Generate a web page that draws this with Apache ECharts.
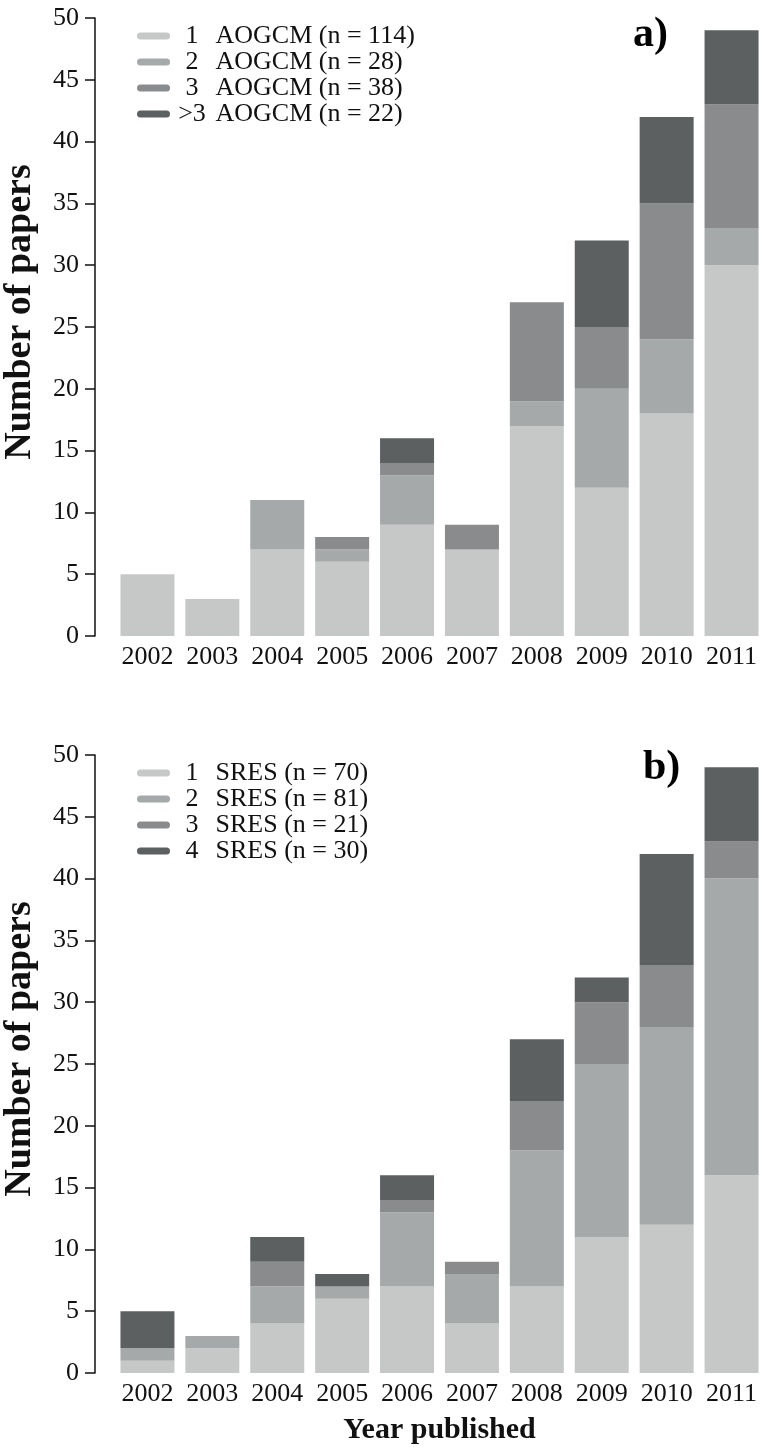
<!DOCTYPE html>
<html>
<head>
<meta charset="utf-8">
<script src="https://cdn.jsdelivr.net/npm/echarts@6/dist/echarts.min.js"></script>
<style>
  html, body { margin: 0; padding: 0; background: #fff; }
  #chart { width: 764px; height: 1450px; }
</style>
</head>
<body>
<div id="chart"></div>
<script>
const years = ['2002','2003','2004','2005','2006','2007','2008','2009','2010','2011'];

// Panel a) number of AOGCMs
const namesA = ['1 AOGCM (n = 114)', '2 AOGCM (n = 28)', '3 AOGCM (n = 38)', '>3 AOGCM (n = 22)'];
const aogcm1 = [5, 3, 7, 6, 9, 7, 17, 12, 18, 30];
const aogcm2 = [0, 0, 4, 1, 4, 0, 2, 8, 6, 3];
const aogcm3 = [0, 0, 0, 1, 1, 2, 8, 5, 11, 10];
const aogcm4 = [0, 0, 0, 0, 2, 0, 0, 7, 7, 6];

// Panel b) number of SRES scenarios
const namesB = ['1 SRES (n = 70)', '2 SRES (n = 81)', '3 SRES (n = 21)', '4 SRES (n = 30)'];
const sres1 = [1, 2, 4, 6, 7, 4, 7, 11, 12, 16];
const sres2 = [1, 1, 3, 1, 6, 4, 11, 14, 16, 24];
const sres3 = [0, 0, 2, 0, 1, 1, 4, 5, 5, 3];
const sres4 = [3, 0, 2, 1, 2, 0, 5, 2, 9, 6];

const yTicks = [0, 5, 10, 15, 20, 25, 30, 35, 40, 45, 50];

const colors = ['#c6c8c7', '#a6a9aa', '#8a8b8d', '#5c6061'];
const FONT = '"Liberation Serif", "Times New Roman", serif';

const chart = echarts.init(document.getElementById('chart'), null, { renderer: 'canvas' });

function legendFormatter(name) {
  const i = name.indexOf(' ');
  return '{p|' + name.slice(0, i) + '}{r| ' + name.slice(i + 1) + '}';
}

function makeLegend(data, top) {
  return {
    data: data,
    orient: 'vertical',
    left: 137,
    top: top,
    padding: 0,
    itemWidth: 33,
    itemHeight: 7,
    itemGap: 0,
    icon: 'path://M3.5,0 L29.5,0 A3.5,3.5 0 0 1 29.5,7 L3.5,7 A3.5,3.5 0 0 1 3.5,0 Z',
    selectedMode: false,
    formatter: legendFormatter,
    textStyle: {
      fontFamily: FONT,
      fontSize: 26,
      color: '#111',
      lineHeight: 25,
      rich: {
        p: { fontFamily: FONT, fontSize: 26, color: '#111', width: 34, align: 'right', lineHeight: 25 },
        r: { fontFamily: FONT, fontSize: 26, color: '#111', lineHeight: 25 }
      }
    }
  };
}

function makeXAxis(gridIndex, withName) {
  const ax = {
    type: 'category',
    gridIndex: gridIndex,
    data: years,
    axisLine: { show: false },
    axisTick: { show: false },
    axisLabel: { interval: 0, fontFamily: FONT, fontSize: 26, color: '#111', margin: 8 },
    splitLine: { show: false }
  };
  if (withName) {
    ax.name = 'Year published';
    ax.nameLocation = 'middle';
    ax.nameGap = 42;
    ax.nameTextStyle = { fontFamily: FONT, fontSize: 30, fontWeight: 'bold', color: '#111' };
  }
  return ax;
}

function makeYAxis(gridIndex) {
  return {
    type: 'value',
    gridIndex: gridIndex,
    min: 0,
    max: 50,
    interval: 5,
    offset: 20,
    name: 'Number of papers',
    nameLocation: 'middle',
    nameRotate: 90,
    nameGap: 56,
    nameTextStyle: {
      fontFamily: FONT, fontSize: 38, fontWeight: 'bold', color: '#111',
      padding: [0, 0, 0, 30]
    },
    axisLine: { show: true, lineStyle: { color: '#111', width: 1.5 } },
    axisTick: { show: true, length: 10, lineStyle: { color: '#111', width: 1.5 } },
    axisLabel: {
      fontFamily: FONT, fontSize: 26, color: '#111', margin: 16,
      formatter: function (v) { return yTicks.indexOf(v) >= 0 ? String(v) : ''; }
    },
    splitLine: { show: false }
  };
}

function makeSeries(names, arrays, axisIndex, stack) {
  return names.map(function (n, k) {
    return {
      name: n,
      type: 'bar',
      stack: stack,
      xAxisIndex: axisIndex,
      yAxisIndex: axisIndex,
      barWidth: 54,
      data: arrays[k],
      itemStyle: { color: colors[k] },
      emphasis: { disabled: true }
    };
  });
}

const option = {
  backgroundColor: '#fff',
  animation: false,
  color: colors,
  grid: [
    { left: 115, right: 0, top: 18, height: 618, containLabel: false, outerBoundsMode: 'none' },
    { left: 115, right: 0, top: 755, height: 618, containLabel: false, outerBoundsMode: 'none' }
  ],
  legend: [makeLegend(namesA, 23), makeLegend(namesB, 760)],
  xAxis: [makeXAxis(0, false), makeXAxis(1, true)],
  yAxis: [makeYAxis(0), makeYAxis(1)],
  series: [].concat(
    makeSeries(namesA, [aogcm1, aogcm2, aogcm3, aogcm4], 0, 'a'),
    makeSeries(namesB, [sres1, sres2, sres3, sres4], 1, 'b')
  ),
  graphic: [
    { type: 'text', left: 633, top: 14, style: { text: 'a)', fontFamily: FONT, fontSize: 42, fontWeight: 'bold', fill: '#000' } },
    { type: 'text', left: 643, top: 747, style: { text: 'b)', fontFamily: FONT, fontSize: 42, fontWeight: 'bold', fill: '#000' } }
  ]
};

chart.setOption(option);
</script>
</body>
</html>
